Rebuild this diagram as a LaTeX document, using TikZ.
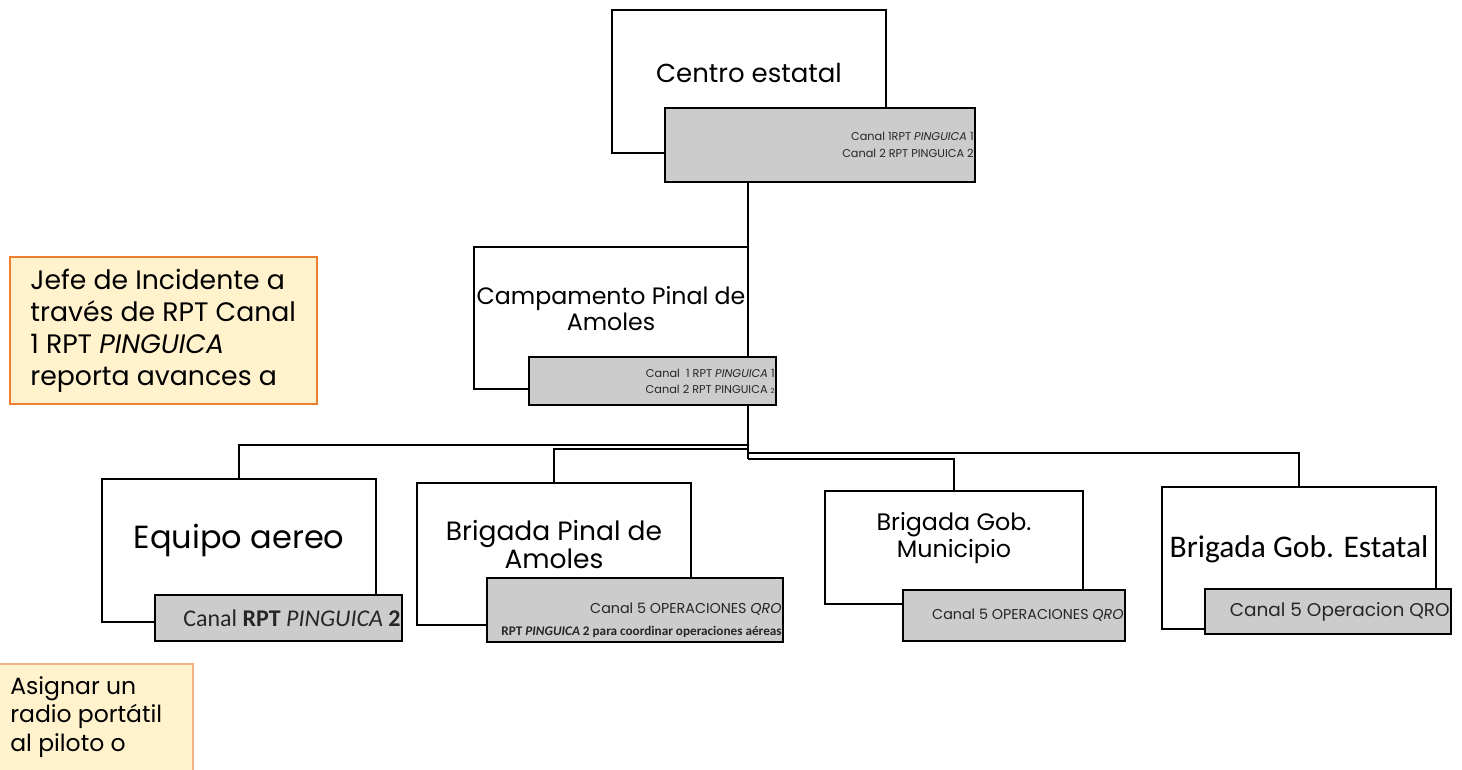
\documentclass[tikz,border=0pt]{standalone}
\usepackage{fontspec}
\setmainfont{Poppins}
\newfontfamily\calibri{Carlito}
\usetikzlibrary{backgrounds}
\newlength{\px}
\setlength{\px}{0.02cm}
\newcommand{\fs}[2]{\fontsize{#1\px}{#2\px}\selectfont}
\definecolor{boxgray}{HTML}{CCCCCC}
\definecolor{noteyellow}{HTML}{FFF2CC}
\definecolor{noteorange}{HTML}{ED7D31}
\definecolor{notepeach}{HTML}{F4B183}

\begin{document}
\begin{tikzpicture}[x=\px, y=-\px,
    rect/.style={draw, rectangle, line width=2\px, anchor=north west, fill=white, inner sep=0pt},
    radio/.style={rect, fill=boxgray},
    txt/.style={inner sep=0pt, align=center},
    tag/.style={inner sep=0pt, align=right, anchor=east, xshift=-2\px, text=black!85},
    note/.style={draw=noteorange, fill=noteyellow, line width=2\px, anchor=north west, inner sep=0pt},
    link/.style={line width=2\px}]
    \useasboundingbox (0,0) rectangle (1462,769);

    % Centro estatal
    \node[rect, minimum width=274\px, minimum height=143\px, label={[txt, font=\fs{26}{30}, yshift=9\px]center:Centro estatal}] (centroW) at (611,9) {};
    \node[radio, minimum width=310\px, minimum height=74\px, label={[tag, font=\fs{11.3}{17}]east:Canal 1RPT \textit{PINGUICA} 1\\Canal 2 RPT PINGUICA 2}] (centroG) at (664,107) {};

    % Campamento
    \node[rect, minimum width=274\px, minimum height=142\px, label={[txt, font=\fs{23.7}{26}, yshift=9\px]center:Campamento Pinal de\\Amoles}] (campW) at (473,246) {};
    \node[radio, minimum width=247\px, minimum height=48\px, label={[tag, font=\fs{11.3}{16}]east:Canal\ \ 1 RPT \textit{PINGUICA} 1\\Canal 2 RPT PINGUICA {\fs{7}{7}2}}] (campG) at (528,356) {};

    % Brigadas
    \node[rect, minimum width=274\px, minimum height=143\px, label={[txt, font=\fs{32}{36}, yshift=10\px]center:Equipo aereo}] (equipoW) at (101,478) {};
    \node[radio, minimum width=247\px, minimum height=46\px, label={[tag, font=\calibri\fs{24}{26}]east:Canal \textbf{RPT} \textit{PINGUICA} \textbf{2}}] (equipoG) at (154,594) {};

    \node[rect, minimum width=274\px, minimum height=142\px, label={[txt, font=\fs{26.5}{28}, yshift=9\px]center:Brigada Pinal de\\Amoles}] (pinalW) at (416,482) {};
    \node[radio, minimum width=296\px, minimum height=64\px, label={[tag, font=\fs{14.3}{22}, yshift=-10\px]east:Canal 5 OPERACIONES \textit{QRO}\\{\calibri\bfseries\fs{13.2}{14}RPT \textit{PINGUICA} 2 para coordinar operaciones aéreas}}] (pinalG) at (486,577) {};

    \node[rect, minimum width=258\px, minimum height=113\px, label={[txt, font=\fs{23.8}{27}, yshift=9\px]center:Brigada Gob.\\Municipio}] (municipioW) at (824,490) {};
    \node[radio, minimum width=222\px, minimum height=51\px, label={[tag, font=\fs{14.3}{16}]east:Canal 5 OPERACIONES \textit{QRO}}] (municipioG) at (902,589) {};

    \node[rect, minimum width=274\px, minimum height=142\px, label={[txt, font=\calibri\fs{31.5}{34}, yshift=9\px]center:Brigada Gob. Estatal}] (estatalW) at (1161,486) {};
    \node[radio, minimum width=246\px, minimum height=45\px, label={[tag, font=\fs{18.5}{20}]east:Canal 5 Operacion QRO}] (estatalG) at (1204,588) {};

    % Notas
    \node[note, minimum width=307\px, minimum height=147\px, label={[inner sep=0pt, anchor=west, align=left, font=\fs{26.7}{32}, xshift=21\px]west:Jefe de Incidente a\\través de RPT Canal\\1 RPT \textit{PINGUICA}\\reporta avances a}] (jefe) at (9,256) {};
    \node[note, draw=notepeach, minimum width=197\px, minimum height=130\px, label={[inner sep=0pt, anchor=north west, align=left, font=\fs{23.5}{28.5}, xshift=15\px, yshift=-13\px]north west:Asignar un\\radio portátil\\al piloto o}] (asignar) at (-5,663) {};

    % Conexiones
    \coordinate (j1) at (748,445);
    \coordinate (j2) at (748,449);
    \coordinate (j3) at (748,453);
    \coordinate (j4) at (748,459);
    \begin{scope}[on background layer]
        \draw[link] (centroG.south -| j1) -- (j4);
        \draw[link] (j1) -| (equipoW.north);
        \draw[link] (j2) -| (pinalW.north);
        \draw[link] (j3) -| (estatalW.north);
        \draw[link] (j4) -| (municipioW.north);
    \end{scope}
\end{tikzpicture}
\end{document}
